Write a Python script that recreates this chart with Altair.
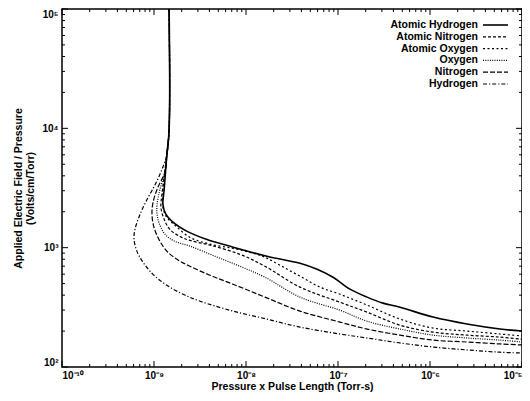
import altair as alt
import pandas as pd

# ---- data (x: Torr-s, y: Volts/cm/Torr) ----
series_names = ["Atomic Hydrogen", "Atomic Nitrogen", "Atomic Oxygen", "Oxygen", "Nitrogen", "Hydrogen"]

ah_x = [1.46e-9, 1.46e-9, 1.38e-9, 1.29e-9, 1.25e-9, 1.35e-9, 1.57e-9, 2.29e-9, 3.77e-9, 7.23e-9, 1.69e-8,
        3.86e-8, 5.92e-8, 8.83e-8, 1.35e-7, 2.07e-7, 3.08e-7, 4.72e-7, 1.08e-6, 2.52e-6, 5.77e-6, 1.0e-5]
ah_y = [1e5, 9750, 6030, 3070, 2300, 1900, 1660, 1370, 1170, 1010, 847,
        740, 659, 565, 449, 385, 343, 317, 262, 229, 208, 200]

an_x = [1.46e-9, 1.46e-9, 1.38e-9, 1.32e-9, 1.22e-9, 1.19e-9, 1.29e-9, 1.49e-9, 1.92e-9, 2.46e-9, 4.06e-9,
        8.61e-9, 1.61e-8, 3.86e-8, 1.05e-7, 2.07e-7, 4.72e-7, 1.08e-6, 2.52e-6, 5.77e-6, 1.0e-5]
an_y = [1e5, 9750, 6030, 4520, 2790, 2170, 1730, 1420, 1240, 1150, 1050,
        879, 698, 467, 349, 288, 224, 196, 185, 178, 171]

ao_x = [1.46e-9, 1.46e-9, 1.38e-9, 1.32e-9, 1.25e-9, 1.25e-9, 1.38e-9, 1.69e-9, 2.46e-9, 4.06e-9,
        7.23e-9, 1.10e-8, 1.61e-8, 2.34e-8, 3.86e-8, 6.37e-8, 1.05e-7, 2.07e-7, 4.72e-7, 1.08e-6,
        2.52e-6, 5.77e-6, 1.0e-5]
ao_y = [1e5, 9750, 6030, 4520, 2790, 2170, 1790, 1540, 1220, 1070,
        986, 914, 830, 712, 577, 467, 407, 330, 252, 212,
        200, 189, 182]

o2_x = [1.46e-9, 1.46e-9, 1.38e-9, 1.32e-9, 1.16e-9, 1.08e-9, 1.08e-9, 1.16e-9, 1.35e-9, 1.69e-9, 2.46e-9,
        4.60e-9, 8.61e-9, 1.61e-8, 3.86e-8, 1.05e-7, 2.07e-7, 4.72e-7, 1.08e-6, 2.52e-6, 5.77e-6, 1.0e-5]
o2_y = [1e5, 9750, 6030, 4340, 3070, 2300, 1900, 1540, 1270, 1130, 1030,
        847, 698, 565, 385, 299, 242, 208, 185, 175, 168, 162]

n2_x = [1.46e-9, 1.46e-9, 1.38e-9, 1.32e-9, 1.10e-9, 9.75e-10, 9.51e-10, 1.00e-9, 1.16e-9, 1.42e-9, 1.92e-9,
        2.46e-9, 4.06e-9, 7.23e-9, 1.61e-8, 3.86e-8, 1.05e-7, 2.07e-7, 4.72e-7, 1.08e-6, 2.52e-6,
        5.77e-6, 1.0e-5]
n2_y = [1e5, 9750, 6030, 4340, 3190, 2390, 1900, 1480, 1130, 914, 769,
        698, 587, 494, 385, 294, 238, 208, 185, 168, 162,
        156, 153]

h2_x = [1.46e-9, 1.46e-9, 1.38e-9, 1.22e-9, 1.03e-9, 8.39e-10, 7.05e-10, 6.21e-10, 6.07e-10, 6.53e-10,
        7.59e-10, 9.75e-10, 1.38e-9, 2.07e-9, 3.16e-9, 7.23e-9, 1.69e-8, 3.86e-8, 1.05e-7, 2.07e-7,
        4.72e-7, 1.08e-6, 2.52e-6, 5.77e-6, 1.0e-5]
h2_y = [1e5, 9750, 6030, 4520, 3380, 2530, 1900, 1420, 1170, 931,
        755, 598, 484, 407, 356, 294, 252, 216, 189, 175,
        159, 147, 139, 133, 131]

x_exponents = [-10, -9, -8, -7, -6, -5]
y_exponents = [2, 3, 4, 5]

# ---- styling ----
W, H = 460, 358
FONT = "Liberation Sans"
dashes = {
    "Atomic Hydrogen": None,
    "Atomic Nitrogen": [3, 2],
    "Atomic Oxygen": [2, 2.5],
    "Oxygen": [1, 1.3],
    "Nitrogen": [5, 2],
    "Hydrogen": [4, 2, 1.2, 2],
}
widths = {"Atomic Hydrogen": 1.6}

xs = {"Atomic Hydrogen": (ah_x, ah_y), "Atomic Nitrogen": (an_x, an_y), "Atomic Oxygen": (ao_x, ao_y),
      "Oxygen": (o2_x, o2_y), "Nitrogen": (n2_x, n2_y), "Hydrogen": (h2_x, h2_y)}

SUP = {"0": "⁰", "1": "¹", "2": "²", "3": "³", "4": "⁴", "5": "⁵", "6": "⁶", "7": "⁷", "8": "⁸", "9": "⁹", "-": "⁻"}


def sup(e):
    return "10" + "".join(SUP[c] for c in str(e))


def label_expr(exps):
    s = "''"
    for e in reversed(exps):
        s = f"round(log(datum.value)/LN10) == {e} ? '{sup(e)}' : ({s})"
    return s


xscale = alt.Scale(type="log", domain=[10.0 ** x_exponents[0], 10.0 ** x_exponents[-1]], nice=False)
yscale = alt.Scale(type="log", domain=[10.0 ** y_exponents[0], 10.0 ** y_exponents[-1]], nice=False)

xaxis = alt.Axis(values=[10.0 ** e for e in x_exponents], labelExpr=label_expr(x_exponents),
                 title="Pressure x Pulse Length (Torr-s)", ticks=False, domain=False, grid=False,
                 labelFlush=True, labelPadding=3, titlePadding=1)
yaxis = alt.Axis(values=[10.0 ** e for e in y_exponents], labelExpr=label_expr(y_exponents),
                 title=["Applied Electric Field / Pressure", "(Volts/cm/Torr)"], ticks=False, domain=False,
                 grid=False, labelFlush=True, labelPadding=4, titlePadding=6)


def X(field):
    return alt.X(field, scale=xscale, axis=xaxis)


def Y(field):
    return alt.Y(field, scale=yscale, axis=yaxis)


layers = []
for name in series_names:
    px, py = xs[name]
    df = pd.DataFrame({"x": px, "y": py, "i": list(range(len(px)))})
    kw = dict(color="black", strokeWidth=widths.get(name, 1.2), interpolate="catmull-rom")
    if dashes[name]:
        kw["strokeDash"] = dashes[name]
    layers.append(alt.Chart(df).mark_line(**kw).encode(
        x=X("x:Q"), y=Y("y:Q"), order=alt.Order("i:Q")))

# inward ticks on all four sides
xt_major = [10.0 ** e for e in x_exponents]
xt_minor = [k * 10.0 ** e for e in x_exponents[:-1] for k in range(2, 10)]
yt_major = [10.0 ** e for e in y_exponents]
yt_minor = [k * 10.0 ** e for e in y_exponents[:-1] for k in range(2, 10)]

for vals, ln in ((xt_major, 6), (xt_minor, 3)):
    d = pd.DataFrame({"x": vals})
    layers.append(alt.Chart(d).mark_rule(color="black", strokeWidth=1).encode(
        x=X("x:Q"), y=alt.value(H), y2=alt.value(H - ln)))
    layers.append(alt.Chart(d).mark_rule(color="black", strokeWidth=1).encode(
        x=X("x:Q"), y=alt.value(0), y2=alt.value(ln)))
for vals, ln in ((yt_major, 6), (yt_minor, 3)):
    d = pd.DataFrame({"y": vals})
    layers.append(alt.Chart(d).mark_rule(color="black", strokeWidth=1).encode(
        y=Y("y:Q"), x=alt.value(0), x2=alt.value(ln)))
    layers.append(alt.Chart(d).mark_rule(color="black", strokeWidth=1).encode(
        y=Y("y:Q"), x=alt.value(W), x2=alt.value(W - ln)))

# legend (labels left of samples, top right)
LEG_TEXT_X, LEG_LINE_X0, LEG_LINE_X1, LEG_Y0, LEG_DY = 416, 421, 446, 16, 11.8
for k, name in enumerate(series_names):
    yy = LEG_Y0 + LEG_DY * k
    layers.append(alt.Chart(pd.DataFrame({"t": [name]})).mark_text(
        align="right", baseline="middle", font=FONT, fontSize=10.5, fontWeight="bold", color="black").encode(
        text="t:N", x=alt.value(LEG_TEXT_X), y=alt.value(yy)))
    kw = dict(color="black", strokeWidth=widths.get(name, 1.2))
    if dashes[name]:
        kw["strokeDash"] = dashes[name]
    layers.append(alt.Chart(pd.DataFrame({"t": [name]})).mark_rule(**kw).encode(
        x=alt.value(LEG_LINE_X0), x2=alt.value(LEG_LINE_X1), y=alt.value(yy)))

chart = alt.layer(*layers).properties(
    width=W, height=H,
    autosize=alt.AutoSizeParams(type="none"),
    padding={"left": 54, "top": 1, "right": 0, "bottom": 26},
).configure_view(stroke="black", strokeWidth=1.5).configure_axis(
    labelFont=FONT, labelFontSize=10, labelFontWeight="bold", labelColor="black",
    titleFont=FONT, titleFontSize=10.5, titleFontWeight="bold", titleColor="black",
)

chart.save("out.html", embed_options={"renderer": "svg", "actions": False})
